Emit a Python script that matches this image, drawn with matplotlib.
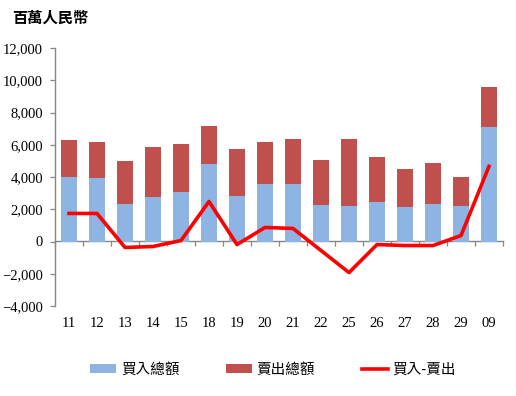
import numpy as np
import matplotlib
matplotlib.use('Agg')
import matplotlib.pyplot as plt

plt.rcParams['font.family'] = ['Liberation Serif', 'Noto Sans CJK TC', 'DejaVu Sans']

# data (millions RMB)
days = ['11', '12', '13', '14', '15', '18', '19', '20', '21', '22',
        '25', '26', '27', '28', '29', '09']
buy_total = [4000, 3910, 2300, 2730, 3040, 4780, 2800, 3540, 3540, 2240,
             2175, 2480, 2110, 2300, 2175, 7080]
sell_total = [2270, 2240, 2670, 3110, 2985, 2360, 2910, 2610, 2795, 2790,
              4160, 2740, 2360, 2540, 1800, 2485]
net = [1740, 1740, -370, -310, 60, 2480, -190, 870, 810, -560,
       -1925, -190, -250, -250, 370, 4660]

BLUE = '#8DB4E2'
RED = '#C0504D'
LINE = '#FF0000'
GREY = '#868686'

fig = plt.figure(figsize=(5.16, 3.96), dpi=100)
fig.patch.set_facecolor('white')
ax = fig.add_axes([55 / 516, 1 - 306 / 396, 448 / 516, 258 / 396])

x = np.arange(len(days))
b1 = ax.bar(x, buy_total, width=0.57, color=BLUE, label='買入總額', zorder=2)
b2 = ax.bar(x, sell_total, width=0.57, bottom=buy_total, color=RED,
            label='賣出總額', zorder=2)
ln, = ax.plot(x, net, color=LINE, linewidth=2.6, label='買入-賣出', zorder=3)

ax.set_xlim(-0.5, len(days) - 0.5)
ax.set_ylim(-4000, 12000)
ax.set_yticks(np.arange(-4000, 12001, 2000))
ax.yaxis.set_major_formatter(matplotlib.ticker.StrMethodFormatter('{x:,.0f}'))
ax.tick_params(axis='y', direction='out', length=3.5, width=0.9, color=GREY,
               labelsize=10.5, pad=5)

# category labels at the bottom, no tick marks there
ax.set_xticks(x)
ax.set_xticklabels(days)
ax.tick_params(axis='x', length=0, labelsize=10.5, pad=8)

for s in ['top', 'right', 'bottom']:
    ax.spines[s].set_visible(False)
ax.spines['left'].set_color(GREY)
ax.spines['left'].set_linewidth(1.0)

# category axis drawn at zero with boundary ticks
zero_frac = 4000 / 16000
sec = ax.secondary_xaxis(zero_frac)
sec.set_xticks(np.arange(-0.5, len(days), 1.0))
sec.set_xticklabels([])
sec.tick_params(axis='x', direction='out', length=3.5, width=0.9, color=GREY)
sec.spines['bottom'].set_color(GREY)
sec.spines['bottom'].set_linewidth(1.0)
sec.spines['top'].set_color(GREY)
sec.spines['top'].set_linewidth(1.0)

fig.text(12 / 516, 1 - 18 / 396, '百萬人民幣', fontsize=11, fontweight='bold',
         family=['Noto Sans CJK TC'], va='center', ha='left')

leg = fig.legend(handles=[b1, b2, ln], loc='center',
                 bbox_to_anchor=(273 / 516, 1 - 370 / 396),
                 ncol=3, frameon=False, handlelength=1.8,
                 handleheight=0.6, columnspacing=3.2, handletextpad=0.3,
                 prop={'family': ['Noto Sans CJK TC'], 'size': 10.5})

fig.savefig('out.png', dpi=100)
